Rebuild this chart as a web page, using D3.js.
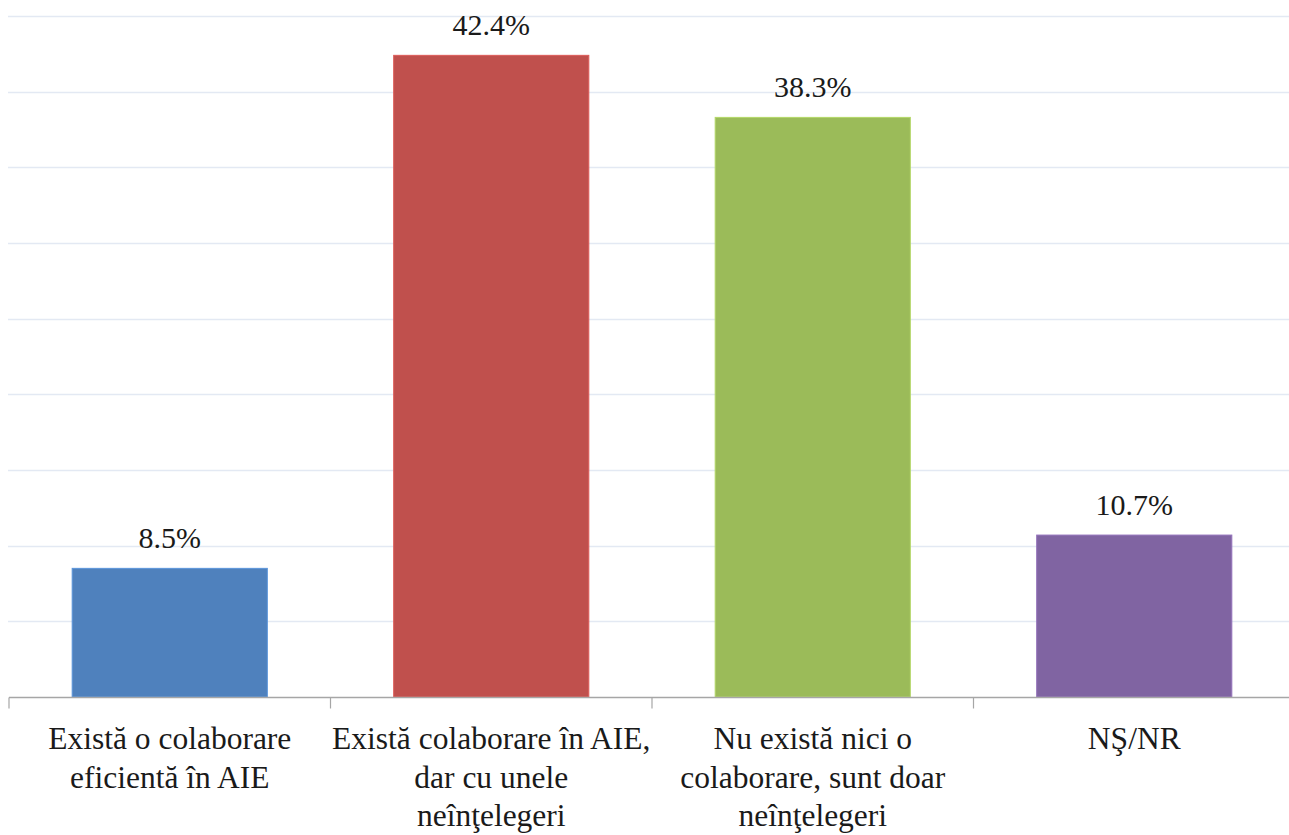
<!DOCTYPE html>
<html>
<head>
<meta charset="utf-8">
<script src="https://cdn.jsdelivr.net/npm/d3@7"></script>
</head>
<body style="margin:0">
<svg id="chart" width="1289" height="835" font-family="Liberation Serif"></svg>
<script>
const categories = [
  "Există o colaborare\neficientă în AIE",
  "Există colaborare în AIE,\ndar cu unele\nneînţelegeri",
  "Nu există nici o\ncolaborare, sunt doar\nneînţelegeri",
  "NŞ/NR"
];
const values = [8.5, 42.4, 38.3, 10.7];
const valueLabels = ["8.5%", "42.4%", "38.3%", "10.7%"];
const colors = ["#4f81bd", "#c0504d", "#9bbb59", "#8064a2"];
const yTicks = [5, 10, 15, 20, 25, 30, 35, 40, 45];
const FONT = "Liberation Serif";

const svg = d3.select("#chart");
const x = d3.scaleBand().domain(categories).range([9, 1295]).paddingInner(0.393).paddingOuter(0.1965);
const y = d3.scaleLinear().domain([0, 45]).range([697, 16]);

// gridlines
svg.append("g").selectAll("line").data(yTicks).join("line")
  .attr("x1", 8).attr("x2", 1295)
  .attr("y1", d => Math.round(y(d)) + 0.5).attr("y2", d => Math.round(y(d)) + 0.5)
  .attr("stroke", "#e3e9f3").attr("stroke-width", 1.5);

// bars
svg.append("g").selectAll("rect").data(values).join("rect")
  .attr("x", (d, i) => x(categories[i]))
  .attr("width", x.bandwidth())
  .attr("y", d => y(d))
  .attr("height", d => y(0) - y(d))
  .attr("fill", (d, i) => colors[i])
  .attr("stroke", (d, i) => d3.color(colors[i]).brighter(0.4))
  .attr("stroke-width", 1);

// x axis
const xAxis = d3.axisBottom(x).tickSize(0).tickFormat("");
const gx = svg.append("g").attr("transform", "translate(0,697.5)").call(xAxis);
gx.select(".domain").attr("stroke", "#a6a6a6").attr("stroke-width", 1.5).attr("d", "M9,0H1295");
const bounds = [0, 1, 2, 3, 4].map(i => 9 + i * x.step());
gx.selectAll(".bt").data(bounds).join("line").attr("class", "bt")
  .attr("x1", d => d).attr("x2", d => d).attr("y1", 0).attr("y2", 11)
  .attr("stroke", "#a6a6a6").attr("stroke-width", 1.2);

// value labels
svg.append("g").selectAll("text").data(values).join("text")
  .attr("x", (d, i) => x(categories[i]) + x.bandwidth() / 2)
  .attr("y", d => y(d) - 20)
  .attr("text-anchor", "middle")
  .attr("font-family", FONT)
  .style("font-family", FONT)
  .attr("font-size", 30)
  .attr("fill", "#1a1a1a")
  .text((d, i) => valueLabels[i]);

// category labels
const lbl = svg.append("g").selectAll("text").data(categories).join("text")
  .attr("text-anchor", "middle")
  .attr("font-family", FONT)
  .style("font-family", FONT)
  .attr("font-size", 31.5)
  .attr("fill", "#1a1a1a")
  .attr("transform", d => `translate(${x(d) + x.bandwidth() / 2},749)`);
lbl.selectAll("tspan").data(d => d.split("\n")).join("tspan")
  .attr("x", 0).attr("y", (d, i) => i * 38.7).text(d => d);
</script>
</body>
</html>
